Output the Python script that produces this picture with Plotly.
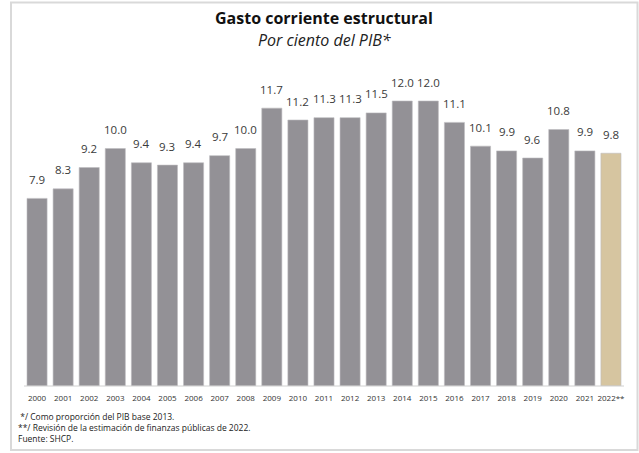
import plotly.graph_objects as go

years = ["2000", "2001", "2002", "2003", "2004", "2005", "2006", "2007", "2008", "2009",
         "2010", "2011", "2012", "2013", "2014", "2015", "2016", "2017", "2018", "2019",
         "2020", "2021", "2022**"]
values = [7.9, 8.3, 9.2, 10.0, 9.4, 9.3, 9.4, 9.7, 10.0, 11.7,
          11.2, 11.3, 11.3, 11.5, 12.0, 12.0, 11.1, 10.1, 9.9, 9.6,
          10.8, 9.9, 9.8]
value_labels = [f"{v:.1f}" for v in values]

title_text = "Gasto corriente estructural"
subtitle_text = "Por ciento del PIB*"
footnotes = [
    "&nbsp;*/ Como proporción del PIB base 2013.",
    "**/ Revisión de la estimación de finanzas públicas de 2022.",
    "Fuente: SHCP.",
]

GRAY = "#939196"
TAN = "#d6c5a0"
colors = [GRAY] * (len(years) - 1) + [TAN]

FONT = "Open Sans"
W, H = 639, 453
ML, MR, MT, MB = 24, 15, 60, 67
PW, PH = W - ML - MR, H - MT - MB


def px_x(p):
    return (p - ML) / PW


def px_y(p):
    return (H - MB - p) / PH


pos = list(range(len(years)))

fig = go.Figure()
fig.add_trace(go.Bar(
    x=pos, y=values,
    marker=dict(color=colors, line=dict(color="#bdbcc0", width=0.6)),
    width=0.77,
    text=value_labels, textposition="none",
    hoverinfo="skip",
))

annotations = []
for p, v, lab in zip(pos, values, value_labels):
    annotations.append(dict(
        x=p, y=v, xref="x", yref="y", text=lab, showarrow=False,
        yanchor="middle", yshift=19,
        font=dict(family=FONT, size=11.5, color="#3a3a3a"),
    ))

annotations.append(dict(
    x=0.5, y=px_y(18), xref="paper", yref="paper", text=f"<b>{title_text}</b>",
    showarrow=False, xanchor="center", yanchor="middle", borderpad=0,
    font=dict(family=FONT, size=16, color="#111111"),
))
annotations.append(dict(
    x=0.5, y=px_y(40), xref="paper", yref="paper", text=f"<i>{subtitle_text}</i>",
    showarrow=False, xanchor="center", yanchor="middle", borderpad=0,
    font=dict(family=FONT, size=16, color="#222222"),
))
annotations.append(dict(
    x=px_x(17), y=px_y(427), xref="paper", yref="paper",
    text="<br>".join(footnotes),
    showarrow=False, xanchor="left", yanchor="middle", align="left", borderpad=0,
    font=dict(family=FONT, size=8.5, color="#222222"),
))

shapes = [
    dict(type="rect", xref="paper", yref="paper",
         x0=px_x(11), x1=px_x(637.5), y0=px_y(450), y1=px_y(2.5),
         line=dict(color="#d9d9d9", width=2), fillcolor="rgba(0,0,0,0)", layer="below"),
    dict(type="line", xref="paper", yref="paper",
         x0=0, x1=1, y0=0, y1=0,
         line=dict(color="#d0d0d0", width=1)),
]

fig.update_layout(
    width=W, height=H,
    margin=dict(l=ML, r=MR, t=MT, b=MB),
    paper_bgcolor="white", plot_bgcolor="white",
    showlegend=False,
    xaxis=dict(
        range=[-0.5, len(years) - 0.5],
        tickmode="array", tickvals=pos, ticktext=years,
        showgrid=False, showline=False, zeroline=False,
        ticks="", tickfont=dict(family=FONT, size=8, color="#333333"),
        ticklabelstandoff=6, fixedrange=True,
    ),
    yaxis=dict(
        range=[0, PH / 23.75], showgrid=False, showline=False, zeroline=False,
        showticklabels=False, ticks="", fixedrange=True,
    ),
    annotations=annotations,
    shapes=shapes,
)

fig.write_html(
    "out.html",
    config={"displayModeBar": False},
    post_script="document.body.style.margin='0px';document.body.style.overflow='hidden';",
)
